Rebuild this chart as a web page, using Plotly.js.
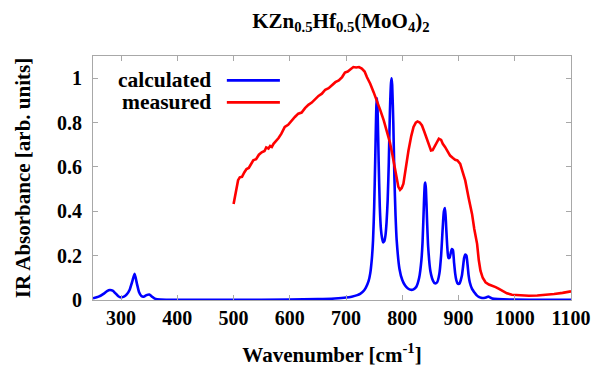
<!DOCTYPE html>
<html>
<head>
<meta charset="utf-8">
<script src="https://cdn.plot.ly/plotly-3.0.1.min.js"></script>
<style>html,body{margin:0;padding:0;background:#fff;}#chart{width:597px;height:367px;}</style>
</head>
<body>
<div id="chart"></div>
<script>
// Calculated IR spectrum
const calcX = [250,260,270,275,280,285,290,295,300,305,310,315,320,324,328,332,336,340,345,350,355,360,370,380,400,500,600,650,680,700,710,720,725,730,735,740,743,746,748,750,752,754,755,756,758,760,762,764,766,768,770,772,774,776,778,780,781,782,784,786,788,790,795,800,805,810,815,820,825,830,834,836,838,840,841,842,844,846,850,855,858,862,866,869,872,874,876,878,880,882,884,886,888,890,892,894,896,898,900,902,904,906,908,910,912,914,916,918,920,924,928,932,936,940,945,950,953,956,960,970,980,1000,1050,1100];
const calcY = [0.008,0.015,0.03,0.04,0.045,0.042,0.03,0.017,0.012,0.015,0.025,0.045,0.085,0.118,0.075,0.035,0.018,0.015,0.022,0.025,0.015,0.006,0.002,0.001,0.0005,0.001,0.002,0.004,0.007,0.011,0.015,0.022,0.028,0.038,0.055,0.085,0.12,0.19,0.27,0.42,0.65,0.88,0.91,0.86,0.62,0.42,0.32,0.28,0.26,0.265,0.29,0.35,0.45,0.62,0.85,0.98,1.0,0.97,0.8,0.55,0.38,0.27,0.14,0.09,0.065,0.052,0.046,0.048,0.06,0.1,0.18,0.26,0.4,0.52,0.53,0.5,0.36,0.24,0.13,0.085,0.075,0.08,0.12,0.2,0.33,0.4,0.415,0.33,0.24,0.19,0.19,0.21,0.23,0.225,0.17,0.12,0.09,0.076,0.072,0.075,0.09,0.11,0.15,0.19,0.205,0.2,0.16,0.11,0.08,0.05,0.035,0.022,0.014,0.01,0.009,0.012,0.016,0.012,0.007,0.004,0.003,0.002,0.001,0.001];
// Measured IR spectrum
const measX = [500,504,508,511,515,519,523,527,531,535,540,545,550,555,558,562,565,568,571,575,580,585,591,597,603,609,615,621,627,633,639,645,651,657,663,669,675,681,687,693,698,703,708,713,718,723,728,733,737,743,749,755,761,767,773,778,782,786,790,793,796,799,802,806,811,816,820,824,827,831,835,839,844,848,851,854,857,861,865,869,872,876,880,885,890,894,898,903,907,912,918,924,928,933,936,939,943,948,954,960,966,972,979,986,995,1010,1025,1040,1055,1070,1085,1100];
const measY = [0.433,0.49,0.54,0.553,0.555,0.575,0.59,0.595,0.615,0.63,0.635,0.655,0.666,0.672,0.688,0.683,0.694,0.69,0.704,0.715,0.73,0.75,0.78,0.79,0.81,0.825,0.84,0.845,0.865,0.88,0.89,0.905,0.92,0.93,0.948,0.955,0.97,0.982,0.99,1.005,1.025,1.03,1.04,1.05,1.048,1.05,1.043,1.03,1.005,0.975,0.937,0.9,0.855,0.81,0.757,0.71,0.66,0.6,0.546,0.51,0.497,0.505,0.524,0.6,0.674,0.74,0.78,0.8,0.805,0.8,0.787,0.76,0.72,0.69,0.674,0.676,0.689,0.71,0.727,0.722,0.704,0.69,0.675,0.651,0.64,0.632,0.629,0.614,0.58,0.538,0.46,0.388,0.32,0.253,0.18,0.132,0.1,0.08,0.07,0.065,0.058,0.05,0.04,0.03,0.024,0.02,0.019,0.02,0.022,0.027,0.032,0.039];

const seriesNames = ['calculated','measured'];
const seriesColors = ['#0000ff','#ff0000'];
const xTicks = [300,400,500,600,700,800,900,1000,1100];
const xTickText = ['300','400','500','600','700','800','900','1000','1100'];
const yTicks = [0,0.2,0.4,0.6,0.8,1];
const yTickText = ['0','0.2','0.4','0.6','0.8','1'];

const serif = '"Liberation Serif", "Times New Roman", serif';
const bold = s => '<b>' + s + '</b>';
const traces = [
  {x: calcX, y: calcY, name: seriesNames[0], mode: 'lines', line: {color: seriesColors[0], width: 2.6, shape: 'spline', smoothing: 0.6}},
  {x: measX, y: measY, name: seriesNames[1], mode: 'lines', line: {color: seriesColors[1], width: 2.6}}
];
function axis(extra) {
  return Object.assign({showgrid: false, zeroline: false, showline: true, linecolor: '#a8a8a8', linewidth: 1, mirror: 'ticks', ticks: 'inside', ticklen: 5, tickcolor: '#a8a8a8', tickfont: {family: serif, size: 20, color: '#000'}}, extra);
}
const layout = {
  width: 597, height: 367,
  font: {family: serif, size: 20, color: '#000'},
  margin: {l: 93, r: 26, t: 56, b: 67},
  paper_bgcolor: '#fff', plot_bgcolor: '#fff',
  showlegend: false,
  title: {text: bold('KZn<sub>0.5</sub>Hf<sub>0.5</sub>(MoO<sub>4</sub>)<sub>2</sub>'), font: {family: serif, size: 21, color: '#000'}, x: 0.571, xanchor: 'center', y: 0.945, yanchor: 'middle'},
  xaxis: axis({range: [250, 1100], tickvals: xTicks, ticktext: xTickText.map(bold), title: {text: bold('Wavenumber [cm<sup>-1</sup>]'), font: {family: serif, size: 21, color: '#000'}, standoff: 20}}),
  yaxis: axis({range: [0, 1.1], tickvals: yTicks, ticktext: yTickText.map(bold), ticklabelstandoff: 6, title: {text: bold('IR Absorbance [arb. units]'), font: {family: serif, size: 21, color: '#000'}, standoff: 20}}),
  annotations: [
    {xref: 'paper', yref: 'paper', x: 0.252, y: 0.9, xanchor: 'right', yanchor: 'middle', showarrow: false, text: bold(seriesNames[0]), font: {family: serif, size: 21.5, color: '#000'}},
    {xref: 'paper', yref: 'paper', x: 0.252, y: 0.81, xanchor: 'right', yanchor: 'middle', showarrow: false, text: bold(seriesNames[1]), font: {family: serif, size: 21.5, color: '#000'}}
  ],
  shapes: [
    {type: 'line', xref: 'paper', yref: 'paper', x0: 0.28, x1: 0.391, y0: 0.9, y1: 0.9, line: {color: seriesColors[0], width: 2.6}},
    {type: 'line', xref: 'paper', yref: 'paper', x0: 0.28, x1: 0.391, y0: 0.81, y1: 0.81, line: {color: seriesColors[1], width: 2.6}}
  ]
};
Plotly.newPlot('chart', traces, layout, {displayModeBar: false, staticPlot: true});
</script>
</body>
</html>
